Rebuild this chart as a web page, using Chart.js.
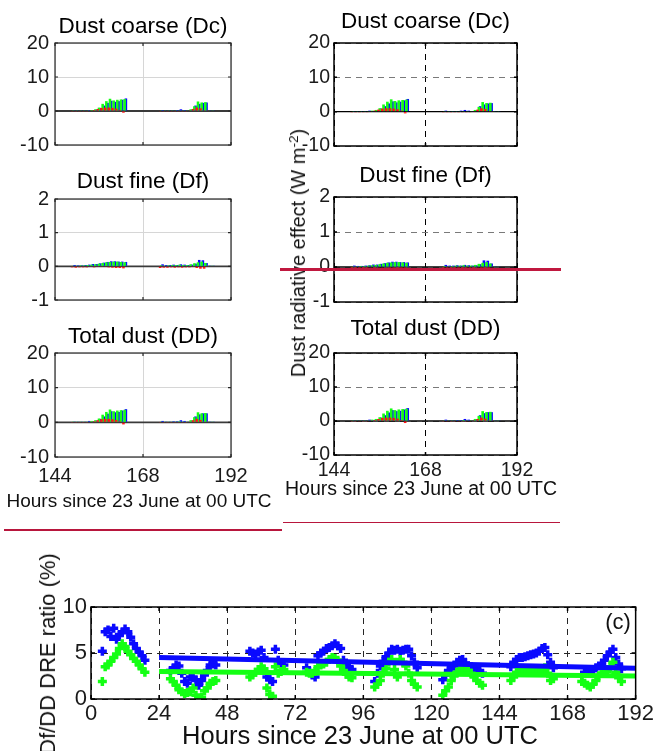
<!DOCTYPE html>
<html>
<head>
<meta charset="utf-8">
<script src="https://cdn.jsdelivr.net/npm/chart.js@4.4.0/dist/chart.umd.min.js"></script>
<style>
  body { margin: 0; background: #fff; width: 658px; height: 751px; overflow: hidden; position: relative;
         font-family: "Liberation Sans", Arial, sans-serif; }
  canvas { position: absolute; }
  .lbl { position: absolute; white-space: nowrap; transform: translate(-50%, -50%); color: #111; line-height: 1; }
  .rot { transform: translate(-50%, -50%) rotate(-90deg); }
  .lbl sup { font-size: 0.68em; vertical-align: 0.55em; line-height: 0; }
  .rule { position: absolute; background: #b8163d; }
</style>
</head>
<body>

<script>
// hours of the two dust episodes (upper panels)
const hours = [149, 150, 151, 152, 153, 154, 155, 156, 157, 158, 159, 160, 161, 162, 163,
               173, 174, 175, 176, 177, 178, 179, 180, 181, 182, 183, 184, 185, 186, 187];

// Dust coarse (Dc)
const dcBlue  = [0.2, 0.1, 0.1, 0.1, 0.3, 0.2, 0.4, 0.9, 1.6, 2.4, 3.0, 2.7, 2.9, 3.3, 3.7,
                 0.3, 0.2, 0.2, 0.2, 0.3, 0.5, 0.3, 0.2, 0.4, 1.6, 2.1, 2.4, 2.5, 0.2, 0.1];
const dcGreen = [0.2, 0.1, 0.1, 0.1, 0.2, 0.3, 0.5, 1.0, 2.1, 2.9, 3.6, 3.1, 3.3, 3.4, 3.5,
                 0.1, 0.1, 0.1, 0.1, 0.2, 0.2, 0.2, 0.2, 0.5, 1.4, 2.8, 2.5, 2.6, 0.2, 0.1];
const dcRed   = [-0.2, -0.2, -0.2, -0.1, -0.1, 0.1, 0.3, 0.6, 0.9, 1.0, 1.0, 0.9, 0.7, 0.3, -0.5,
                 -0.2, -0.2, -0.2, -0.1, -0.2, -0.1, -0.2, -0.1, 0.2, 0.6, 1.0, 0.8, 0.2, 0.1, 0.0];

// Dust fine (Df)
const dfBlue  = [0.04, 0.03, 0.03, 0.04, 0.05, 0.07, 0.07, 0.09, 0.11, 0.13, 0.15, 0.15, 0.14, 0.14, 0.13,
                 0.06, 0.04, 0.04, 0.05, 0.04, 0.06, 0.05, 0.04, 0.05, 0.08, 0.19, 0.18, 0.10, 0.02, 0.01];
const dfGreen = [0.02, 0.02, 0.03, 0.03, 0.04, 0.05, 0.06, 0.08, 0.10, 0.12, 0.13, 0.14, 0.14, 0.13, 0.12,
                 0.03, 0.02, 0.03, 0.04, 0.04, 0.05, 0.04, 0.04, 0.06, 0.09, 0.12, 0.14, 0.10, 0.02, 0.01];
const dfRed   = [-0.03, -0.04, -0.03, -0.03, -0.03, -0.02, -0.03, -0.02, -0.02, -0.02, -0.03, -0.04, -0.05, -0.05, -0.06,
                 -0.05, -0.04, -0.04, -0.03, -0.04, -0.03, -0.04, -0.03, -0.03, -0.02, -0.05, -0.07, -0.07, -0.01, 0.0];

// Total dust (DD)
const ddBlue  = [0.2, 0.1, 0.1, 0.1, 0.4, 0.3, 0.5, 1.0, 1.7, 2.5, 3.2, 2.9, 3.0, 3.4, 3.8,
                 0.4, 0.2, 0.2, 0.3, 0.3, 0.6, 0.4, 0.2, 0.5, 1.7, 2.3, 2.6, 2.6, 0.2, 0.1];
const ddGreen = [0.2, 0.1, 0.1, 0.1, 0.2, 0.4, 0.6, 1.1, 2.2, 3.0, 3.7, 3.2, 3.4, 3.5, 3.6,
                 0.1, 0.1, 0.1, 0.1, 0.2, 0.3, 0.2, 0.2, 0.6, 1.5, 2.9, 2.6, 2.7, 0.2, 0.1];
const ddRed   = [-0.2, -0.2, -0.2, -0.1, -0.1, 0.1, 0.3, 0.6, 0.9, 1.0, 1.0, 0.9, 0.7, 0.3, -0.6,
                 -0.2, -0.2, -0.2, -0.1, -0.2, -0.1, -0.2, -0.1, 0.2, 0.6, 1.0, 0.7, 0.1, 0.1, 0.0];

// panel (c): Df/DD ratio, hourly
const ratioHours = [4, 5, 6, 7, 8, 9, 10, 11, 12, 13, 14, 15, 16, 17, 18, 19,
                    28, 29, 30, 31, 32, 33, 34, 35, 36, 37, 38, 39, 40, 41, 42, 43, 44,
                    56, 57, 58, 59, 60, 61, 62, 63, 64, 65, 66, 67, 68,
                    76, 77, 78, 79, 80, 81, 82, 83, 84, 85, 86, 87, 88, 89, 90, 91, 92,
                    100, 101, 102, 103, 104, 105, 106, 107, 108, 109, 110, 111, 112, 113, 114, 115,
                    124, 125, 126, 127, 128, 129, 130, 131, 132, 133, 134, 135, 136, 137, 138,
                    148, 149, 150, 151, 152, 153, 154, 155, 156, 157, 158, 159, 160, 161, 162, 163,
                    173, 174, 175, 176, 177, 178, 179, 180, 181, 182, 183, 184, 185, 186, 187];
const ratioBlue = [5.2, 7.3, 7.5, 6.8, 7.7, 6.5, 7.0, 7.2, 7.6, 7.3, 6.7, 6.0, 5.5, 5.1, 4.7, 4.2,
                   3.1, 3.3, 3.7, 3.6, 2.8, 1.9, 1.7, 2.4, 2.3, 2.1, 1.5, 2.0, 2.6, 3.1, 3.7, 3.8, 3.7,
                   5.2, 5.0, 4.9, 5.1, 5.3, 4.5, 2.4, 2.1, 1.9, 5.4, 4.2, 3.9, 3.7,
                   3.4, 3.0, 2.6, 2.4, 4.7, 5.0, 5.2, 5.5, 5.6, 5.8, 6.0, 5.8, 5.5, 4.2, 3.6, 3.4, 3.2,
                   1.9, 2.8, 3.6, 4.1, 4.6, 5.0, 5.4, 5.3, 5.4, 5.2, 5.3, 5.4, 5.4, 4.7, 4.0, 3.4,
                   2.1, 2.6, 3.1, 3.3, 3.6, 4.0, 4.2, 4.3, 3.9, 3.6, 3.5, 3.3, 3.2, 3.0, 2.8,
                   3.5, 4.0, 4.3, 4.5, 4.5, 4.6, 4.7, 4.8, 4.9, 5.0, 5.2, 5.5, 5.6, 4.8, 4.0, 3.4,
                   2.6, 2.8, 2.9, 2.9, 3.1, 3.4, 3.6, 3.8, 4.2, 4.7, 5.1, 5.4, 4.5, 3.8, 3.3];
const ratioGreen = [1.9, 3.5, 3.7, 4.1, 4.5, 4.9, 5.5, 6.0, 5.7, 5.2, 4.8, 4.4, 4.1, 3.7, 3.3, 2.9,
                    2.2, 1.9, 1.5, 1.0, 0.8, 0.6, 0.7, 0.8, 1.2, 0.4, 0.1, 0.2, 0.9, 1.2, 1.7, 1.9, 2.0,
                    2.4, 2.6, 2.9, 3.2, 3.5, 3.3, 1.2, 0.5, 0.3, 3.5, 2.8, 3.0, 3.2,
                    2.9, 2.8, 2.8, 3.0, 3.5, 3.7, 3.8, 4.0, 4.3, 4.5, 4.4, 4.2, 3.6, 3.1, 2.7, 2.4, 2.3,
                    1.3, 1.6, 2.0, 2.8, 3.3, 4.0, 4.3, 3.2, 2.4, 4.3, 4.0, 3.6, 2.8, 2.0, 1.6, 1.3,
                    0.4, 0.9, 1.3, 2.0, 2.5, 2.9, 3.2, 3.3, 3.2, 3.1, 2.8, 2.4, 2.0, 1.7, 1.5,
                    2.0, 2.4, 2.9, 3.0, 3.1, 3.1, 3.1, 3.1, 3.1, 3.0, 2.9, 3.1, 3.4, 2.8, 2.0, 2.2,
                    1.9, 1.7, 1.5, 1.3, 1.6, 2.0, 2.5, 2.8, 2.9, 3.0, 3.5, 4.0, 2.9, 2.3, 1.9];

// linear fits drawn from hour 24 to 192
const fitHours = [24, 192];
const fitBlue = [4.5, 3.35];
const fitGreen = [3.0, 2.5];

const xTicks = [144, 168, 192];
const ratioXTicks = [0, 24, 48, 72, 96, 120, 144, 168, 192];

const FONT = '"Liberation Sans", Arial, sans-serif';
const BLUE = '#0a0aff', GREEN = '#14ff14', RED = '#ff1414';

function pts(xs, ys) {
  return xs.map((x, i) => ({ x: x, y: ys[i] }));
}

// box round the plot area, zero line and small inward ticks (matlab look)
const framePlugin = {
  id: 'frame',
  beforeDatasetsDraw(chart, args, o) {
    if (!o.zeroColor) return;
    const { ctx, chartArea: a, scales: { y } } = chart;
    const py = y.getPixelForValue(0);
    ctx.save();
    ctx.strokeStyle = o.zeroColor;
    ctx.lineWidth = o.zeroWidth;
    ctx.beginPath();
    ctx.moveTo(a.left, py);
    ctx.lineTo(a.right, py);
    ctx.stroke();
    ctx.restore();
  },
  afterDatasetsDraw(chart, args, o) {
    const { ctx, chartArea: a, scales: { x, y } } = chart;
    ctx.save();
    ctx.strokeStyle = o.color;
    ctx.lineWidth = o.width;
    ctx.strokeRect(a.left, a.top, a.right - a.left, a.bottom - a.top);
    const len = o.tick;
    ctx.beginPath();
    y.ticks.forEach(t => {
      const p = y.getPixelForValue(t.value);
      ctx.moveTo(a.left, p); ctx.lineTo(a.left + len, p);
      ctx.moveTo(a.right, p); ctx.lineTo(a.right - len, p);
    });
    x.ticks.forEach(t => {
      const p = x.getPixelForValue(t.value);
      ctx.moveTo(p, a.bottom); ctx.lineTo(p, a.bottom - len);
      ctx.moveTo(p, a.top); ctx.lineTo(p, a.top + len);
    });
    ctx.stroke();
    ctx.restore();
  }
};

function addCanvas(left, top, w, h) {
  const cv = document.createElement('canvas');
  cv.width = w;
  cv.height = h;
  cv.style.left = left + 'px';
  cv.style.top = top + 'px';
  document.body.appendChild(cv);
  return cv;
}

// one of the six upper panels; area = plot box in page pixels
function barPanel(p) {
  const [L, T, R, B] = p.area;
  const cv = addCanvas(L - p.ml, T - p.mt, (R - L) + 2 * p.ml, (B - T) + p.mt + p.mb);
  const half = p.titleSize / 2;
  const dash = p.dashed ? [6, 5] : [];
  const tickFont = { family: FONT, size: p.tickSize, lineHeight: 1 };

  return new Chart(cv, {
    type: 'bar',
    data: {
      // first dataset is painted last, so red ends up in front
      datasets: [
        { data: pts(hours, p.red), backgroundColor: RED },
        { data: pts(hours, p.green), backgroundColor: GREEN },
        { data: pts(hours, p.blue), backgroundColor: BLUE }
      ]
    },
    options: {
      responsive: false,
      animation: false,
      events: [],
      datasets: { bar: { categoryPercentage: 1, barPercentage: 2.1, borderWidth: 0 } },
      layout: { padding: 0 },
      scales: {
        x: {
          type: 'linear', min: 144, max: 192, offset: false,
          afterBuildTicks: s => { s.ticks = xTicks.map(v => ({ value: v })); },
          afterFit: s => { s.height = p.mb; },
          grid: { offset: false, drawTicks: false, color: p.dashed ? '#000' : '#d6d6d6', lineWidth: 1 },
          border: { display: false, dash: dash },
          ticks: { display: !!p.showX, autoSkip: false, maxRotation: 0, font: tickFont, color: '#1a1a1a', padding: p.xPad || 0 }
        },
        y: {
          min: p.yMin, max: p.yMax,
          afterFit: s => { s.width = p.ml; },
          grid: { drawTicks: false, color: p.dashed ? '#7a7a7a' : '#d6d6d6', lineWidth: 1 },
          border: { display: false, dash: dash },
          ticks: { stepSize: p.yStep, font: tickFont, color: '#1a1a1a', padding: p.yPad }
        },
        // empty right-hand axis only keeps the margin symmetric so the title centres on the box
        yr: {
          position: 'right', min: 0, max: 1,
          afterFit: s => { s.width = p.ml; },
          grid: { display: false }, border: { display: false }, ticks: { display: false }
        }
      },
      plugins: {
        legend: { display: false },
        tooltip: { enabled: false },
        title: {
          display: true, text: p.title, color: '#000',
          font: { family: FONT, size: p.titleSize, weight: 'normal', lineHeight: 1 },
          padding: { top: p.mt - p.off - half, bottom: p.off - half }
        },
        frame: {
          color: p.dashed ? '#000' : '#262626', width: p.dashed ? 1.5 : 1.2, tick: 3,
          zeroColor: p.dashed ? '#000' : '#3a3a3a', zeroWidth: p.dashed ? 1.3 : 1.8
        }
      }
    },
    plugins: [framePlugin]
  });
}

const left = { ml: 55, mt: 40, titleSize: 22.5, tickSize: 20, yPad: 6 };
const right = { ml: 54, mt: 40, titleSize: 22.5, tickSize: 19.5, yPad: 4, dashed: true };

barPanel(Object.assign({}, left, { area: [55, 43, 231, 147], off: 16, mb: 14, title: 'Dust coarse (Dc)',
  yMin: -10, yMax: 20, yStep: 10, blue: dcBlue, green: dcGreen, red: dcRed }));
barPanel(Object.assign({}, left, { area: [55, 199, 231, 302], off: 17.5, mb: 14, title: 'Dust fine (Df)',
  yMin: -1, yMax: 2, yStep: 1, blue: dfBlue, green: dfGreen, red: dfRed }));
barPanel(Object.assign({}, left, { area: [55, 353, 231, 457], off: 16, mb: 32, title: 'Total dust (DD)',
  yMin: -10, yMax: 20, yStep: 10, blue: ddBlue, green: ddGreen, red: ddRed, showX: true, xPad: 9 }));

barPanel(Object.assign({}, right, { area: [334, 43, 517, 146], off: 21, mb: 14, title: 'Dust coarse (Dc)',
  yMin: -10, yMax: 20, yStep: 10, blue: dcBlue, green: dcGreen, red: dcRed }));
barPanel(Object.assign({}, right, { area: [334, 197, 517, 302], off: 21, mb: 14, title: 'Dust fine (Df)',
  yMin: -1, yMax: 2, yStep: 1, blue: dfBlue, green: dfGreen, red: dfRed }));
barPanel(Object.assign({}, right, { area: [334, 353, 517, 455], off: 24, mb: 32, title: 'Total dust (DD)',
  yMin: -10, yMax: 20, yStep: 10, blue: ddBlue, green: ddGreen, red: ddRed, showX: true, xPad: 5.5 }));

// --- panel (c) ---
(function () {
  const L = 91, T = 606, R = 637, B = 699, ml = 91, mr = 21, mt = 14, mb = 52;
  const cv = addCanvas(L - ml, T - mt, (R - L) + ml + mr, (B - T) + mt + mb);
  const tickFont = { family: FONT, size: 22, lineHeight: 1 };
  const marker = { showLine: false, pointStyle: 'cross', pointRadius: 4.5, pointBorderWidth: 3.5 };

  new Chart(cv, {
    type: 'scatter',
    data: {
      datasets: [
        { data: pts(fitHours, fitGreen), showLine: true, borderColor: GREEN, borderWidth: 5, pointRadius: 0 },
        { data: pts(fitHours, fitBlue), showLine: true, borderColor: BLUE, borderWidth: 5, pointRadius: 0 },
        Object.assign({ data: pts(ratioHours, ratioGreen), borderColor: GREEN, backgroundColor: GREEN }, marker),
        Object.assign({ data: pts(ratioHours, ratioBlue), borderColor: BLUE, backgroundColor: BLUE }, marker)
      ]
    },
    options: {
      responsive: false,
      animation: false,
      events: [],
      layout: { padding: { left: 0, right: mr, top: mt, bottom: 0 } },
      scales: {
        x: {
          type: 'linear', min: 0, max: 192,
          afterBuildTicks: s => { s.ticks = ratioXTicks.map(v => ({ value: v })); },
          afterFit: s => { s.height = mb; },
          grid: { drawTicks: false, color: '#262626', lineWidth: 1 },
          border: { display: false, dash: [6, 5] },
          ticks: { autoSkip: false, maxRotation: 0, font: tickFont, color: '#1a1a1a', padding: 4 }
        },
        y: {
          min: 0, max: 10,
          afterFit: s => { s.width = ml; },
          grid: { drawTicks: false, color: '#262626', lineWidth: 1 },
          border: { display: false, dash: [6, 5] },
          ticks: { stepSize: 5, font: tickFont, color: '#1a1a1a', padding: 4 }
        }
      },
      plugins: {
        legend: { display: false },
        tooltip: { enabled: false },
        frame: { color: '#000', width: 1.5, tick: 4 }
      }
    },
    plugins: [framePlugin]
  });
})();
</script>

<div class="lbl" style="left:139px;top:500px;font-size:19px">Hours since 23 June at 00 UTC</div>
<div class="lbl" style="left:421px;top:489px;font-size:19.5px">Hours since 23 June at 00 UTC</div>
<div class="lbl rot" style="left:298px;top:253px;font-size:20px">Dust radiative effect (W m<sup>-2</sup>)</div>
<div class="lbl" style="left:360px;top:736px;font-size:25.5px">Hours since 23 June at 00 UTC</div>
<div class="lbl rot" style="left:48px;top:654px;font-size:22px">Df/DD DRE ratio (%)</div>
<div class="lbl" style="left:618px;top:622px;font-size:22px">(c)</div>

<div class="rule" style="left:280px;top:267.5px;width:281px;height:3px;background:#c0183f"></div>
<div class="rule" style="left:283px;top:521.5px;width:277px;height:1.2px"></div>
<div class="rule" style="left:4px;top:529px;width:278px;height:2px"></div>

</body>
</html>
